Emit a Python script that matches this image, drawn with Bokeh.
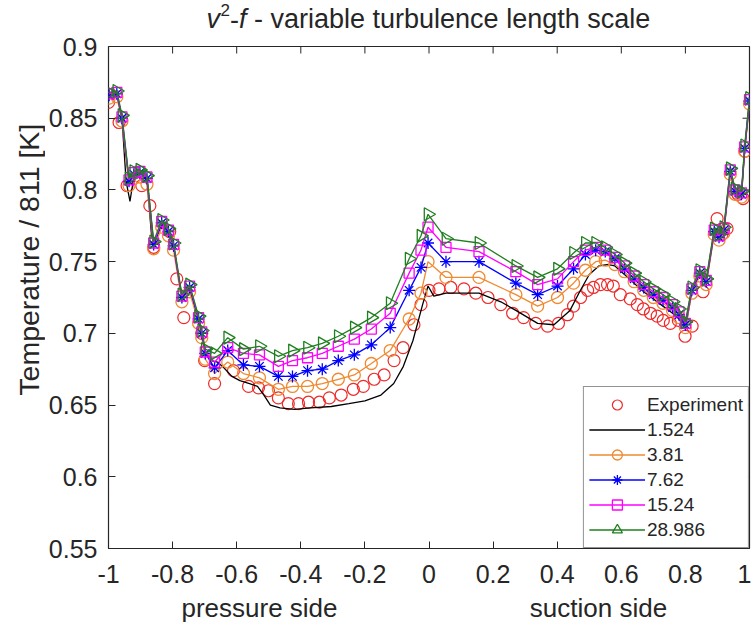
import numpy as np
from bokeh.plotting import figure
from bokeh.layouts import column, row
from bokeh.models import (Range1d, FixedTicker, Label, Legend, LegendItem,
                          NumeralTickFormatter)
from bokeh.embed import file_html
from bokeh.resources import INLINE

FONT = "Liberation Sans"
TXT = "#262626"

# ---------------- data ----------------
exp_x = [-1.0, -0.967, -0.942, -0.896, -0.871, -0.859, -0.809, -0.787, -0.765, -0.709,
         -0.700, -0.669, -0.610, -0.563, -0.532, -0.501, -0.470, -0.439, -0.407, -0.376,
         -0.342, -0.311, -0.274, -0.236, -0.205, -0.171, -0.140, -0.109, -0.081, -0.047,
         -0.025, 0.0, 0.031, 0.068, 0.109, 0.146, 0.184, 0.224, 0.261, 0.295,
         0.333, 0.370, 0.404, 0.432, 0.451, 0.473, 0.495, 0.513, 0.535, 0.557,
         0.575, 0.597, 0.628, 0.650, 0.669, 0.691, 0.712, 0.731, 0.753, 0.778,
         0.799, 0.821, 0.855, 0.899, 0.914, 0.930, 0.964, 0.980, 0.986]
exp_y = [0.861, 0.847, 0.803, 0.803, 0.789, 0.760, 0.771, 0.738, 0.711, 0.700,
         0.681, 0.665, 0.674, 0.663, 0.662, 0.660, 0.655, 0.651, 0.651, 0.652,
         0.652, 0.655, 0.657, 0.661, 0.663, 0.668, 0.671, 0.681, 0.690, 0.706,
         0.720, 0.730, 0.731, 0.732, 0.731, 0.728, 0.725, 0.720, 0.714, 0.711,
         0.707, 0.705, 0.707, 0.713, 0.719, 0.725, 0.730, 0.732, 0.734, 0.734,
         0.733, 0.727, 0.724, 0.720, 0.717, 0.714, 0.712, 0.709, 0.707, 0.709,
         0.698, 0.705, 0.729, 0.780, 0.769, 0.773, 0.797, 0.794, 0.827]

sim_x = [-0.998, -0.974, -0.958, -0.936, -0.921, -0.902, -0.880, -0.859, -0.834, -0.813,
         -0.797, -0.771, -0.747, -0.719, -0.709, -0.698,
         -0.669, -0.628, -0.579, -0.529, -0.470, -0.426, -0.379, -0.333, -0.283, -0.233,
         -0.180, -0.121, -0.062, -0.025, -0.003,
         0.053, 0.156, 0.271, 0.339, 0.401, 0.451,
         0.488, 0.52, 0.55, 0.58, 0.61, 0.64, 0.67, 0.70, 0.73, 0.76, 0.78, 0.80,
         0.82, 0.845, 0.865, 0.89, 0.905, 0.92, 0.94, 0.955, 0.975, 0.985, 1.0]

y_3p81 = [0.864, 0.865, 0.848, 0.803, 0.808, 0.809, 0.804, 0.759, 0.774, 0.768,
          0.758, 0.722, 0.729, 0.707, 0.697, 0.682,
          0.672, 0.680, 0.672, 0.669, 0.661, 0.663, 0.663, 0.665, 0.668, 0.671,
          0.679, 0.688, 0.710, 0.728, 0.750,
          0.739, 0.739, 0.727, 0.719, 0.725, 0.735,
          0.744, 0.750, 0.751, 0.748, 0.743, 0.736, 0.730, 0.725, 0.721, 0.716, 0.711, 0.704,
          0.728, 0.740, 0.734, 0.769, 0.765, 0.770, 0.811, 0.797, 0.795, 0.827, 0.860]
y_7p62 = [0.866, 0.867, 0.850, 0.806, 0.811, 0.812, 0.808, 0.762, 0.777, 0.771,
          0.761, 0.725, 0.732, 0.710, 0.700, 0.686,
          0.676, 0.688, 0.678, 0.677, 0.670, 0.670, 0.674, 0.675, 0.681, 0.685,
          0.692, 0.704, 0.730, 0.746, 0.763,
          0.750, 0.750, 0.735, 0.727, 0.733, 0.745,
          0.755, 0.758, 0.757, 0.752, 0.745, 0.738, 0.732, 0.727, 0.723, 0.718, 0.713, 0.706,
          0.730, 0.742, 0.736, 0.771, 0.767, 0.772, 0.813, 0.799, 0.797, 0.829, 0.862]
y_15p24 = [0.867, 0.868, 0.851, 0.807, 0.812, 0.813, 0.809, 0.763, 0.778, 0.772,
           0.762, 0.726, 0.733, 0.711, 0.701, 0.687,
           0.680, 0.690, 0.686, 0.685, 0.677, 0.681, 0.683, 0.686, 0.691, 0.696,
           0.703, 0.714, 0.742, 0.758, 0.774,
           0.760, 0.757, 0.743, 0.734, 0.738, 0.750,
           0.758, 0.760, 0.758, 0.753, 0.747, 0.740, 0.734, 0.729, 0.725, 0.720, 0.715, 0.707,
           0.731, 0.743, 0.737, 0.772, 0.768, 0.773, 0.814, 0.800, 0.798, 0.830, 0.863]
y_28p986 = [0.868, 0.869, 0.852, 0.808, 0.813, 0.814, 0.810, 0.764, 0.779, 0.773,
            0.763, 0.727, 0.734, 0.712, 0.702, 0.689,
            0.686, 0.697, 0.689, 0.691, 0.684, 0.688, 0.690, 0.693, 0.698, 0.704,
            0.711, 0.721, 0.752, 0.768, 0.783,
            0.766, 0.763, 0.747, 0.739, 0.745, 0.756,
            0.763, 0.763, 0.760, 0.755, 0.749, 0.742, 0.736, 0.731, 0.727, 0.722, 0.717, 0.708,
            0.732, 0.744, 0.738, 0.773, 0.769, 0.774, 0.815, 0.801, 0.799, 0.831, 0.864]

b_x = [-0.998, -0.974, -0.958, -0.945, -0.933, -0.921, -0.902, -0.880, -0.866, -0.859,
       -0.834, -0.813, -0.797, -0.771, -0.747, -0.719, -0.709, -0.698, -0.680, -0.660,
       -0.640, -0.615, -0.590, -0.560, -0.535, -0.515, -0.495, -0.465, -0.420, -0.370,
       -0.305, -0.250, -0.200, -0.150, -0.110, -0.080, -0.050, -0.020, -0.003, 0.015,
       0.053, 0.156, 0.224, 0.271, 0.339, 0.390, 0.440, 0.470, 0.500, 0.530,
       0.560, 0.580, 0.61, 0.64, 0.67, 0.70, 0.73, 0.76, 0.78, 0.80,
       0.82, 0.845, 0.865, 0.89, 0.905, 0.92, 0.94, 0.955, 0.975, 0.985, 1.0]
b_y = [0.866, 0.867, 0.850, 0.806, 0.792, 0.809, 0.812, 0.807, 0.769, 0.762,
       0.776, 0.771, 0.761, 0.725, 0.731, 0.710, 0.700, 0.686, 0.681, 0.680,
       0.676, 0.670, 0.667, 0.665, 0.663, 0.657, 0.650, 0.648, 0.647, 0.648,
       0.649, 0.651, 0.653, 0.657, 0.665, 0.677, 0.695, 0.720, 0.733, 0.726,
       0.728, 0.728, 0.722, 0.716, 0.707, 0.706, 0.716, 0.729, 0.741, 0.747,
       0.748, 0.747, 0.741, 0.735, 0.729, 0.724, 0.719, 0.714, 0.710, 0.703,
       0.729, 0.741, 0.735, 0.770, 0.766, 0.771, 0.812, 0.798, 0.796, 0.828, 0.861]

x_ticks = [-1.0, -0.8, -0.6, -0.4, -0.2, 0.0, 0.2, 0.4, 0.6, 0.8, 1.0]
y_ticks = [0.55, 0.6, 0.65, 0.7, 0.75, 0.8, 0.85, 0.9]
legend_labels = ["Experiment", "1.524", "3.81", "7.62", "15.24", "28.986"]

# ---------------- page geometry (canvas pixels) ----------------
W, H = 751, 628
TITLE_H = 34            # strip holding the title
XLAB_H = 36             # strip holding the two x labels
YLAB_W = 45             # strip holding the y label
MID_H = H - TITLE_H - XLAB_H
FL, FR, FT, FB = 106, 749, 46, 548   # frame edges on the page
X0, X1, Y0, Y1 = -1.0, 1.0, 0.55, 0.9
TICK = 7                # inward tick length, px


def text_strip(w, h):
    f = figure(width=w, height=h, x_range=Range1d(0, w), y_range=Range1d(0, h),
               output_backend="svg", toolbar_location=None, min_border=0,
               min_border_left=0, min_border_right=0, min_border_top=0,
               min_border_bottom=0)
    f.axis.visible = False
    f.xgrid.visible = False
    f.ygrid.visible = False
    f.outline_line_color = None
    f.background_fill_color = "white"
    f.border_fill_color = "white"
    return f


def put(f, h, text, px, py, size, italic=False, angle=0.0, align="left"):
    f.add_layout(Label(x=px, y=h - py, text=text, text_font=FONT, text_font_size=size,
                       text_color=TXT, text_font_style="italic" if italic else "normal",
                       angle=angle, text_align=align, text_baseline="middle"))


# ---- title strip: "v^2-f - variable turbulence length scale" ----
tfig = text_strip(W, TITLE_H)
tm = 18.5                    # vertical middle of the title line
put(tfig, TITLE_H, "v", 206, tm, "27px", italic=True)
put(tfig, TITLE_H, "2", 220, tm - 9, "17px")
put(tfig, TITLE_H, "-", 229.5, tm, "27px")
put(tfig, TITLE_H, "f", 238.5, tm, "27px", italic=True)
put(tfig, TITLE_H, "- variable turbulence length scale", 253.5, tm, "27px")

# ---- y label strip ----
yfig = text_strip(YLAB_W, MID_H)
put(yfig, MID_H, "Temperature / 811 [K]", 28, 271 - TITLE_H, "28.5px", angle=np.pi / 2,
    align="center")

# ---- x label strip ----
xfig = text_strip(W, XLAB_H)
xl_y = 607 - (H - XLAB_H)
put(xfig, XLAB_H, "pressure side", 259, xl_y, "26px", align="center")
put(xfig, XLAB_H, "suction side", 598, xl_y, "26px", align="center")

# ---------------- main plot ----------------
p = figure(width=W - YLAB_W, height=MID_H, x_range=Range1d(X0, X1),
           y_range=Range1d(Y0, Y1), output_backend="svg", toolbar_location=None,
           min_border_left=FL - YLAB_W, min_border_right=W - FR,
           min_border_top=FT - TITLE_H, min_border_bottom=(TITLE_H + MID_H) - FB)
p.background_fill_color = "white"
p.border_fill_color = "white"
p.xgrid.visible = False
p.ygrid.visible = False
p.outline_line_color = TXT
p.outline_line_width = 1.2


def style_axis(ax, ticks):
    ax.ticker = FixedTicker(ticks=ticks)
    ax.major_tick_in = TICK
    ax.major_tick_out = 0
    ax.minor_tick_line_color = None
    ax.axis_line_color = None
    ax.major_tick_line_color = TXT
    ax.major_tick_line_width = 1
    ax.formatter = NumeralTickFormatter(format="0.[00]")
    ax.major_label_text_font = FONT
    ax.major_label_text_font_size = "25px"
    ax.major_label_text_color = TXT


style_axis(p.xaxis[0], x_ticks)
p.xaxis[0].major_label_standoff = 16
style_axis(p.yaxis[0], y_ticks)
p.yaxis[0].major_label_standoff = 11

# mirrored inward ticks on the top and right edges of the box
dx_tick = TICK * (X1 - X0) / (FR - FL)
dy_tick = TICK * (Y1 - Y0) / (FB - FT)
p.segment(x0=x_ticks, y0=[Y1] * len(x_ticks), x1=x_ticks,
          y1=[Y1 - dy_tick] * len(x_ticks), line_color=TXT, line_width=1)
p.segment(x0=[X1] * len(y_ticks), y0=y_ticks, x1=[X1 - dx_tick] * len(y_ticks),
          y1=y_ticks, line_color=TXT, line_width=1)

RED = "#ee2a2a"
ORANGE = "#f08a30"
BLUE = "#0000ff"
MAGENTA = "#ff00ff"
GREEN = "#1e7f1e"

r_exp = p.scatter(exp_x, exp_y, marker="circle", size=12, fill_color=None,
                  line_color=RED, line_width=1.2)
r_black = p.line(b_x, b_y, line_color="black", line_width=1.3)

series = [
    (y_3p81, ORANGE, "circle", 12, 0.0),
    (y_7p62, BLUE, "asterisk", 12, 0.0),
    (y_15p24, MAGENTA, "square", 10, 0.0),
    (y_28p986, GREEN, "triangle", 13, -np.pi / 2),
]
sim_renderers = []
for ys, col, mk, sz, ang in series:
    rl = p.line(sim_x, ys, line_color=col, line_width=1.3)
    rs = p.scatter(sim_x, ys, marker=mk, size=sz, angle=ang, fill_color=None,
                   line_color=col, line_width=1.3)
    sim_renderers.append([rl, rs])

items = [LegendItem(label=legend_labels[0], renderers=[r_exp]),
         LegendItem(label=legend_labels[1], renderers=[r_black])]
for lab, rr in zip(legend_labels[2:], sim_renderers):
    items.append(LegendItem(label=lab, renderers=rr))

legend = Legend(items=items, location="bottom_right", margin=0, padding=5, spacing=0,
                glyph_width=56, glyph_height=25, label_height=25, label_standoff=2,
                label_text_font=FONT, label_text_font_size="19px",
                label_text_color=TXT, border_line_color=TXT, border_line_width=1,
                background_fill_color="white", background_fill_alpha=1.0)
p.add_layout(legend)

page = column(tfig, row(yfig, p, spacing=0), xfig, spacing=0)

open("out.html", "w").write(file_html(page, INLINE))
